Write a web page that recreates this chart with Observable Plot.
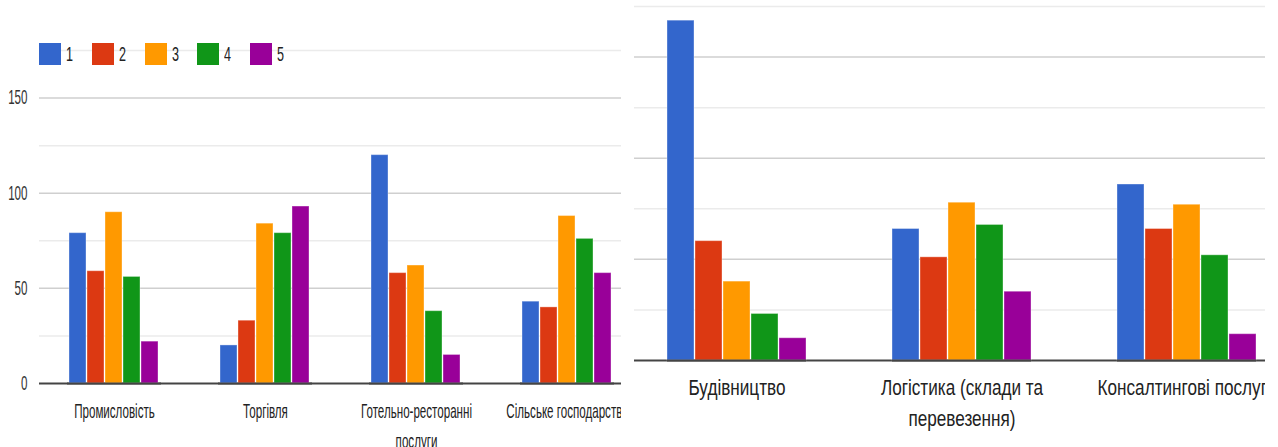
<!DOCTYPE html>
<html><head><meta charset="utf-8">
<script src="https://cdn.jsdelivr.net/npm/d3@7"></script>
<script src="https://cdn.jsdelivr.net/npm/@observablehq/plot@0.6"></script>
<style>
body{margin:0;background:#fff;width:1278px;height:447px;overflow:hidden;position:relative;font-family:"Liberation Sans",Arial,sans-serif}
#left{position:absolute;left:0;top:0;width:621px;height:447px;overflow:hidden}
#right{position:absolute;left:634px;top:0;width:631px;height:447px;overflow:hidden}
.wrap{position:absolute;top:0}
.wrap svg{position:absolute;left:0;top:0}
#legend{position:absolute;left:0;top:0;width:400px;height:80px}
.lg-sq{position:absolute;width:22px;height:22px}
.lg-tx{position:absolute;font-size:21px;color:#222;transform:scaleX(0.6);transform-origin:left center;line-height:22px}
</style></head><body>
<div id="left"></div><div id="right"></div>
<script>
// ---- data ----
const series = ["1", "2", "3", "4", "5"];
const colors = ["#3366cc", "#dc3912", "#ff9900", "#109618", "#990099"];

const leftCategories = ["Промисловість", "Торгівля", "Готельно-ресторанні послуги", "Сільське господарство"];
const leftLabels = ["Промисловість", "Торгівля", "Готельно-ресторанні\nпослуги", "Сільське господарство"];
const left1 = [79, 20, 120, 43];
const left2 = [59, 33, 58, 40];
const left3 = [90, 84, 62, 88];
const left4 = [56, 79, 38, 76];
const left5 = [22, 93, 15, 58];

const rightCategories = ["Будівництво", "Логістика (склади та перевезення)", "Консалтингові послуги"];
const rightLabels = ["Будівництво", "Логістика (склади та\nперевезення)", "Консалтингові послуги"];
const right1 = [168, 65, 87];
const right2 = [59, 51, 65];
const right3 = [39, 78, 77];
const right4 = [23, 67, 52];
const right5 = [11, 34, 13];

const yMajor = [0, 50, 100, 150];
const yMinor = [25, 75, 125, 175];
const yLabels = ["0", "50", "100", "150"];

function toRows(categories, arrays) {
  const rows = [];
  categories.forEach((c, i) => arrays.forEach((arr, s) => rows.push({category: c, series: series[s], value: arr[i]})));
  return rows;
}

function chart(o) {
  const data = toRows(o.categories, o.values);
  const common = {
    width: o.width, height: 447,
    marginLeft: o.marginLeft, marginRight: o.marginRight,
    marginTop: o.marginTop, marginBottom: o.marginBottom,
    style: {background: "transparent", fontFamily: "'Liberation Sans', Arial, sans-serif", color: "#222"},
    y: {domain: [0, 175], axis: null}
  };
  // grid layer (non-faceted, spans full width)
  const grid = Plot.plot({
    ...common,
    marks: [
      Plot.ruleY(yMinor, {stroke: "#ebebeb", strokeWidth: 1.5}),
      Plot.ruleY(yMajor.slice(1), {stroke: "#cfcfcf", strokeWidth: 1.5}),
      Plot.ruleY([0], {stroke: "#444", strokeWidth: 2}),
      o.showY ? Plot.axisY({ticks: yMajor, tickFormat: d => yLabels[yMajor.indexOf(d)], tickSize: 0, tickPadding: 12, fontSize: o.fontSize, label: null, fill: "#333"}) : null
    ]
  });
  // bar layer (faceted)
  const bars = Plot.plot({
    ...common,
    fx: {domain: o.categories, paddingInner: o.pad, paddingOuter: o.pad / 2, axis: null, label: null},
    x: {domain: series, paddingInner: o.barGap, paddingOuter: 0, axis: null},
    color: {domain: series, range: colors},
    marks: [
      Plot.barY(data, {fx: "category", x: "series", y: "value", fill: "series", stroke: "white", strokeOpacity: 0.35, strokeWidth: 1}),
      Plot.ruleY([0], {stroke: "#444", strokeWidth: 2}),
      Plot.axisFx({anchor: "bottom", tickSize: 0, tickPadding: o.tickPadding, fontSize: o.fontSize, lineHeight: o.lineHeight,
        tickFormat: d => o.labels[o.categories.indexOf(d)], label: null, fill: "#222"})
    ]
  });
  const wrap = document.createElement("div");
  wrap.className = "wrap";
  wrap.style.left = o.offset + "px";
  wrap.style.width = o.width + "px";
  wrap.style.height = "447px";
  [grid, bars].forEach(svg => {
    svg.querySelectorAll("text").forEach(t => {
      const tr = t.getAttribute("transform") || "";
      t.setAttribute("transform", tr + ` scale(${o.squeeze},1)`);
    });
    wrap.appendChild(svg);
  });
  return wrap;
}

document.getElementById("left").appendChild(chart({categories: leftCategories, labels: leftLabels, values: [left1, left2, left3, left4, left5],
  width: 660, marginLeft: 39, marginRight: 17, marginTop: 50, marginBottom: 64, offset: 0,
  pad: 0.375, barGap: 0.05, fontSize: 20, lineHeight: 1.5, tickPadding: 13, showY: true, squeeze: 0.58}));

// legend
const legend = d3.select("#left").append("div").attr("id", "legend");
series.forEach((s, i) => {
  legend.append("div").attr("class", "lg-sq").style("left", (39 + i * 52.8) + "px").style("top", "43px").style("background", colors[i]);
  legend.append("div").attr("class", "lg-tx").style("left", (66 + i * 52.8) + "px").style("top", "43px").text(s);
});

document.getElementById("right").appendChild(chart({categories: rightCategories, labels: rightLabels, values: [right1, right2, right3, right4, right5],
  width: 715, marginLeft: 20, marginRight: 20, marginTop: 6, marginBottom: 87, offset: -30,
  pad: 0.382, barGap: 0.04, fontSize: 22, lineHeight: 1.4, tickPadding: 13, showY: false, squeeze: 0.78}));
</script>
</body></html>
